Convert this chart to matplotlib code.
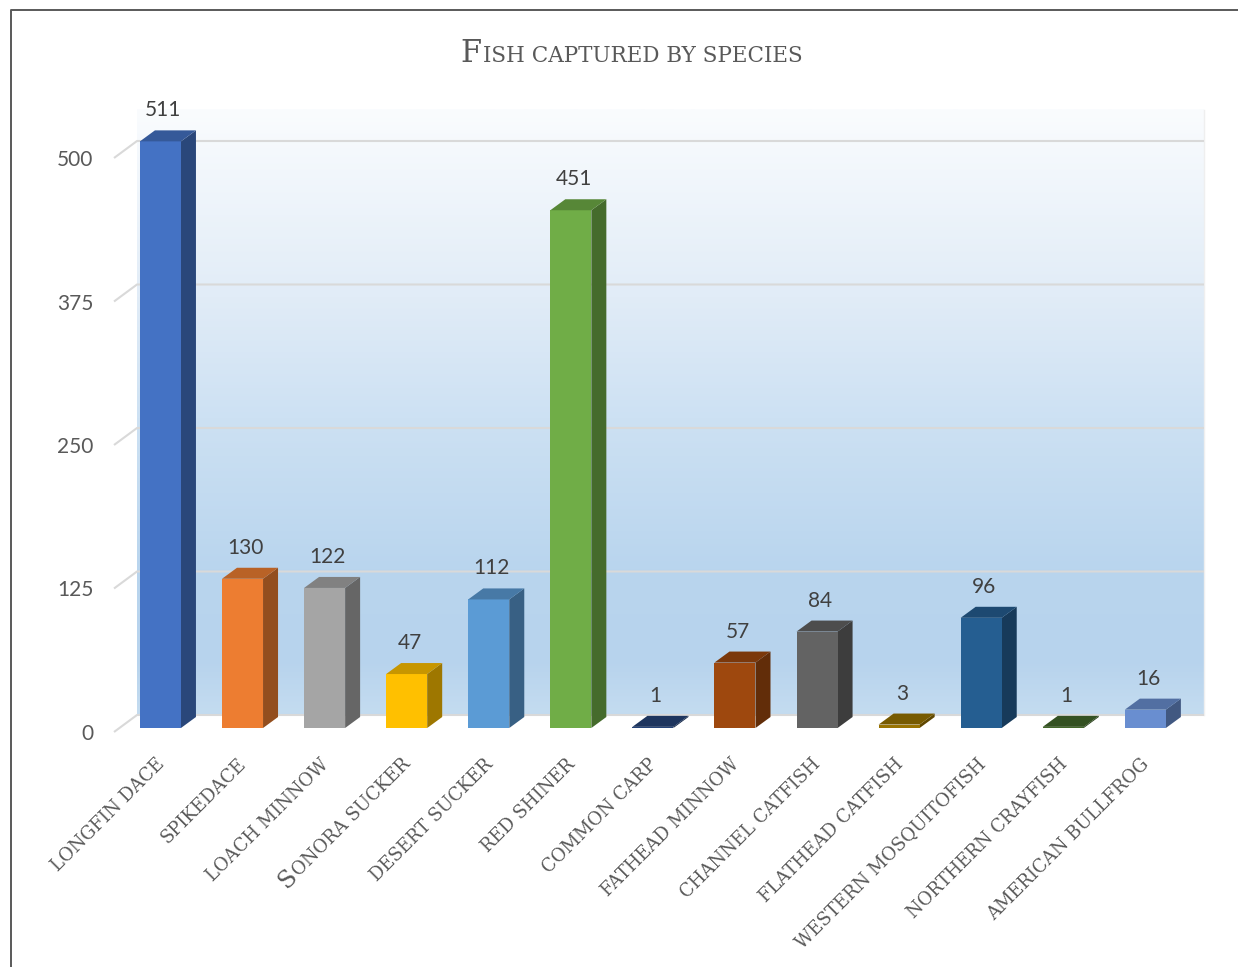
import matplotlib
matplotlib.use("Agg")
import matplotlib.pyplot as plt
import numpy as np
from matplotlib.patches import Polygon
from matplotlib.colors import LinearSegmentedColormap, to_rgb
from matplotlib.lines import Line2D

# ---------------- data ----------------
species = ["longfin dace", "spikedace", "loach minnow", "Sonora sucker",
           "desert sucker", "red shiner", "common carp", "fathead minnow",
           "channel catfish", "flathead catfish", "western mosquitofish",
           "northern crayfish", "american bullfrog"]
counts = [511, 130, 122, 47, 112, 451, 1, 57, 84, 3, 96, 1, 16]
yticks = [0, 125, 250, 375, 500]
bar_colors = ["#4472C4", "#ED7D31", "#A5A5A5", "#FFC000", "#5B9BD5", "#70AD47",
              "#264478", "#9E480E", "#636363", "#997300", "#255E91", "#43682B",
              "#698ED0"]
title = "Fish captured by species"

# ---------------- layout ----------------
W, H, DPI = 1238, 967, 100
fig = plt.figure(figsize=(W / DPI, H / DPI), dpi=DPI)
fig.patch.set_facecolor("white")

PX_L, PX_R = 114, 1181      # x = -0.5 .. 12.5 (front plane)
PX_B, PX_T = 732, 158       # y = 0 .. 500 (image rows)
ax = fig.add_axes([PX_L / W, 1 - PX_B / H, (PX_R - PX_L) / W, (PX_B - PX_T) / H])
n = len(species)
ax.set_xlim(-0.5, n - 0.5)
ax.set_ylim(0, 500)
ax.patch.set_visible(False)
for s in ax.spines.values():
    s.set_visible(False)

PXC = (PX_R - PX_L) / n        # pixels per category
PXV = (PX_B - PX_T) / 500.0    # pixels per unit

DX, DY = 23 / PXC, 17 / PXV        # full depth offset (back wall)
BFX, BFY = 5.4 / PXC, 4 / PXV      # bar front face offset
SDX, SDY = 15 / PXC, 11 / PXV      # bar depth
WALL_TOP = (PX_B - 110) / PXV
BW = 0.5

# ---------------- back wall gradient ----------------
stops = [(0.0, (196, 220, 240)), (0.09, (183, 211, 237)), (0.24, (185, 213, 238)),
         (0.49, (205, 225, 243)), (0.69, (225, 236, 247)), (1.0, (250, 252, 254))]
cmap = LinearSegmentedColormap.from_list(
    "wall", [(p, tuple(c / 255 for c in col)) for p, col in stops])
grad = np.linspace(0, 1, 256).reshape(-1, 1)
ax.imshow(grad, cmap=cmap, origin="lower", aspect="auto",
          extent=[-0.5 + DX, n - 0.5 + DX, DY, WALL_TOP],
          zorder=0, clip_on=False, interpolation="bilinear")
ax.set_xlim(-0.5, n - 0.5)
ax.set_ylim(0, 500)
ax.plot([n - 0.5 + DX] * 2, [DY, WALL_TOP], color="#efefef", lw=1,
        zorder=0.5, clip_on=False)

# gridlines (left side wall diagonal + back wall)
for v in yticks:
    ax.plot([-0.5, -0.5 + DX, n - 0.5 + DX], [v, v + DY, v + DY],
            color="#d9d9d9", lw=1.5, zorder=1, clip_on=False,
            solid_capstyle="butt")

# ---------------- bars ----------------
x = np.arange(n)
bars = ax.bar(x + BFX, counts, width=BW, bottom=BFY, color=bar_colors,
              linewidth=0, zorder=3)
for b in bars:
    b.set_clip_on(False)


def shade(c, f):
    r, g, b = to_rgb(c)
    return (r * f, g * f, b * f)


for i, (v, c) in enumerate(zip(counts, bar_colors)):
    xl = i + BFX - BW / 2
    xr = i + BFX + BW / 2
    yb = BFY
    yt = BFY + v
    side = Polygon([(xr, yb), (xr + SDX, yb + SDY), (xr + SDX, yt + SDY), (xr, yt)],
                   closed=True, facecolor=shade(c, 0.62), edgecolor="none",
                   zorder=2.9, clip_on=False)
    top = Polygon([(xl, yt), (xr, yt), (xr + SDX, yt + SDY), (xl + SDX, yt + SDY)],
                  closed=True, facecolor=shade(c, 0.78), edgecolor="none",
                  zorder=3.1, clip_on=False)
    ax.add_patch(side)
    ax.add_patch(top)
    ax.text(i + 0.1, yt + 27, str(v), ha="center", va="center",
            fontsize=15, family="Lato", color="#404040", clip_on=False,
            zorder=5)

# ---------------- y tick labels ----------------
ax.set_xticks([])
ax.set_yticks(yticks)
ax.set_yticklabels([str(t) for t in yticks])
ax.tick_params(axis="y", length=0, pad=15, labelsize=15, labelcolor="#595959")
for lbl in ax.get_yticklabels():
    lbl.set_fontfamily("Lato")

# ---------------- category labels (small caps emulation) ----------------
renderer = fig.canvas.get_renderer()
SMALL, BIG = 13, 17.5
LCOL = "#595959"
ang = np.deg2rad(45)
for i, name in enumerate(species):
    xa, ya = i + 10 / PXC, -33 / PXV
    if name[0].isupper():
        first, rest = name[0], name[1:].upper()
    else:
        first, rest = "", name.upper()
    ax.text(xa, ya, rest, rotation=45, rotation_mode="anchor", ha="right",
            va="baseline", family="DejaVu Serif", fontsize=SMALL, color=LCOL,
            clip_on=False)
    if first:
        tmp = fig.text(0, 0, rest, family="DejaVu Serif", fontsize=SMALL)
        w = tmp.get_window_extent(renderer=renderer).width
        tmp.remove()
        dx, dy = ax.transData.transform((xa, ya))
        sx, sy = dx - w * np.cos(ang), dy - w * np.sin(ang)
        fx, fy = ax.transData.inverted().transform((sx, sy))
        ax.text(fx, fy, first, rotation=45, rotation_mode="anchor", ha="right",
                va="baseline", family="DejaVu Serif", fontsize=BIG, color=LCOL,
                clip_on=False)

# ---------------- title (small caps emulation) ----------------
TCOL = "#595959"
t_first, t_rest = title[0], title[1:].upper()
tf = fig.text(0, 0, t_first, family="DejaVu Serif", fontsize=22, color=TCOL)
tr = fig.text(0, 0, t_rest, family="DejaVu Serif", fontsize=15.5, color=TCOL)
wf = tf.get_window_extent(renderer=renderer).width
wr = tr.get_window_extent(renderer=renderer).width
x0 = 631 - (wf + wr) / 2
yb = 1 - 62 / H
tf.set_position((x0 / W, yb))
tr.set_position(((x0 + wf + 1) / W, yb))
for t in (tf, tr):
    t.set_ha("left")
    t.set_va("baseline")

# ---------------- outer border (top and left only visible) ----------------
fig.add_artist(Line2D([11 / W, 11 / W, 1.0], [0.0, 1 - 10 / H, 1 - 10 / H],
                      transform=fig.transFigure, color="#595959", lw=1.4))

fig.savefig("out.png", dpi=DPI, facecolor="white")
